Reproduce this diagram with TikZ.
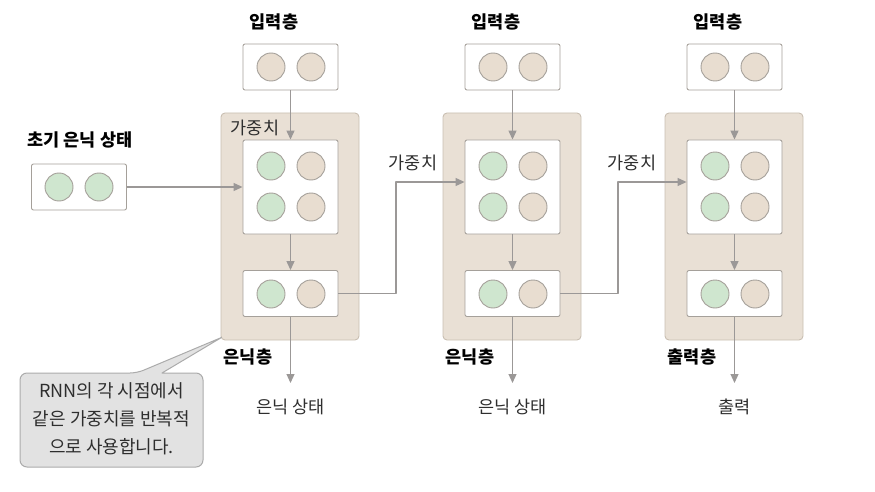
\documentclass[tikz,border=0pt]{standalone}
\usepackage{fontspec}
\setmainfont{Noto Sans CJK KR}
\usepackage{xcolor}
\usetikzlibrary{arrows.meta,calc}

\definecolor{boxbeige}{HTML}{E9E0D5}
\definecolor{boxedge}{HTML}{C9BFB2}
\definecolor{unitgreen}{HTML}{CFE6CF}
\definecolor{unitbeige}{HTML}{E8DDD0}
\definecolor{unitedge}{HTML}{A5A09A}
\definecolor{arrgray}{HTML}{9B9897}
\definecolor{notefill}{HTML}{E2E2E2}
\definecolor{notedge}{HTML}{ABABAB}
\definecolor{txt}{HTML}{2E2E2E}

\tikzset{
  layerbox/.style={draw=unitedge,fill=white,rounded corners=2pt,line width=0.9pt,
    minimum width=95pt,minimum height=46pt,inner sep=0pt},
  weightbox/.style={layerbox,minimum height=94pt},
  cellbox/.style={draw=boxedge,fill=boxbeige,rounded corners=4pt,line width=0.9pt,
    minimum width=138pt,minimum height=227pt,inner sep=0pt},
  gunit/.style={circle,draw=unitedge,fill=unitgreen,line width=0.9pt,minimum size=28pt,inner sep=0pt},
  bunit/.style={gunit,fill=unitbeige},
  arr/.style={draw=arrgray,line width=1.2pt,-{Triangle[length=9pt,width=8pt]}},
  link/.style={draw=arrgray,line width=1.2pt},
  lbl/.style={text=txt,font=\fontsize{17.5}{21}\selectfont,inner sep=0pt},
  title/.style={lbl,font=\fontsize{17.5}{21}\selectfont\bfseries,text=black},
}

\begin{document}
\begin{tikzpicture}[x=1pt,y=-1pt,line join=round]
  \useasboundingbox (0,0) rectangle (875,492);
  % cells
  \node[cellbox] (cell1) at (290,226.5) {};
  \node[cellbox] (cell2) at (512,226.5) {};
  \node[cellbox] (cell3) at (734,226.5) {};
  % input layers
  \node[title] (t1) at (274,22) {입력층};
  \node[title] (t2) at (496,22) {입력층};
  \node[title] (t3) at (718,22) {입력층};
  \node[layerbox] (in1) at (290.5,67) {};
  \node[layerbox] (in2) at (512.5,67) {};
  \node[layerbox] (in3) at (734.5,67) {};
  \node[bunit] (in1a) at (271,67) {};
  \node[bunit] (in1b) at (311,67) {};
  \node[bunit] (in2a) at (493,67) {};
  \node[bunit] (in2b) at (533,67) {};
  \node[bunit] (in3a) at (715,67) {};
  \node[bunit] (in3b) at (755,67) {};
  % weights
  \node[weightbox] (w1) at (290.5,187) {};
  \node[weightbox] (w2) at (512.5,187) {};
  \node[weightbox] (w3) at (734.5,187) {};
  \node[gunit] (w1a) at (271,166) {};
  \node[bunit] (w1b) at (311,166) {};
  \node[gunit] (w1c) at (271,207) {};
  \node[bunit] (w1d) at (311,207) {};
  \node[gunit] (w2a) at (493,166) {};
  \node[bunit] (w2b) at (533,166) {};
  \node[gunit] (w2c) at (493,207) {};
  \node[bunit] (w2d) at (533,207) {};
  \node[gunit] (w3a) at (715,166) {};
  \node[bunit] (w3b) at (755,166) {};
  \node[gunit] (w3c) at (715,207) {};
  \node[bunit] (w3d) at (755,207) {};
  % hidden / output layers
  \node[layerbox] (h1) at (290.5,293.5) {};
  \node[layerbox] (h2) at (512.5,293.5) {};
  \node[layerbox] (h3) at (734.5,293.5) {};
  \node[gunit] (h1a) at (271,294) {};
  \node[bunit] (h1b) at (311,294) {};
  \node[gunit] (h2a) at (493,294) {};
  \node[bunit] (h2b) at (533,294) {};
  \node[gunit] (h3a) at (715,294) {};
  \node[bunit] (h3b) at (755,294) {};
  % initial hidden state
  \node[title] (t0) at (80,140) {초기 은닉 상태};
  \node[layerbox] (init) at (79,187) {};
  \node[gunit] (inita) at (59,187) {};
  \node[gunit] (initb) at (99,187) {};
  % arrows
  \draw[arr] (in1) -- (w1);
  \draw[arr] (in2) -- (w2);
  \draw[arr] (in3) -- (w3);
  \draw[arr] (w1) -- (h1);
  \draw[arr] (w2) -- (h2);
  \draw[arr] (w3) -- (h3);
  \coordinate (out1) at (290.5,383);
  \coordinate (out2) at (512.5,383);
  \coordinate (out3) at (734.5,383);
  \draw[arr] (h1) -- (out1);
  \draw[arr] (h2) -- (out2);
  \draw[arr] (h3) -- (out3);
  \draw[arr] (init.east) -- (init.east -| w1.west);
  \draw[arr] (h1.east) -- (396,293.5) |- ([yshift=5pt]w2.west);
  \draw[arr] (h2.east) -- (618,293.5) |- ([yshift=5pt]w3.west);
  % labels
  \node[lbl] (wl1) at (255,128) {가중치};
  \node[lbl] (wl2) at (413,163) {가중치};
  \node[lbl] (wl3) at (632,163) {가중치};
  \node[title] (hl1) at (248,357) {은닉층};
  \node[title] (hl2) at (470,357) {은닉층};
  \node[title] (hl3) at (692,357) {출력층};
  \node[lbl] (o1) at (290.5,407) {은닉 상태};
  \node[lbl] (o2) at (512.5,407) {은닉 상태};
  \node[lbl] (o3) at (734.5,407) {출력};
  % note
  \draw[fill=notefill,draw=notedge,line width=1pt] (137,373) -- ([xshift=1pt,yshift=3pt]cell1.south west) -- (162,373)
    [rounded corners=7pt] -- (203,373) -- (203,467) -- (20,467) -- (20,373) -- cycle;
  \node[lbl,align=center,font=\fontsize{18}{28}\selectfont] (note) at (111.5,419) {RNN의 각 시점에서\\같은 가중치를 반복적\\으로 사용합니다.};
\end{tikzpicture}
\end{document}
